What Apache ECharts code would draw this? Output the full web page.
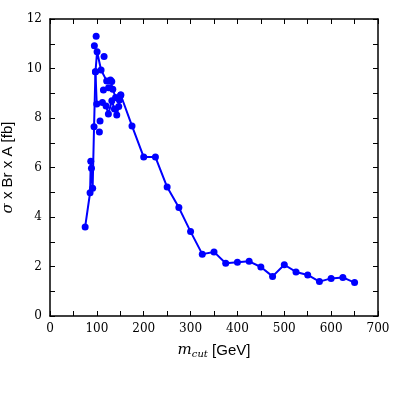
<!DOCTYPE html>
<html>
<head>
<meta charset="utf-8">
<script src="https://cdn.jsdelivr.net/npm/echarts@6/dist/echarts.min.js"></script>
<style>
  html, body { margin: 0; padding: 0; background: #fff; }
  #chart { width: 397px; height: 397px; }
</style>
</head>
<body>
<div id="chart"></div>
<script>
// main path (drawn in data order)
var mainX = [75, 85.5, 87, 88.5, 91, 94, 97, 100.5, 109, 121, 129, 134, 140, 151, 175, 200, 225, 250, 275, 300,
  325, 350, 375, 400, 425, 450, 475, 500, 525, 550, 575, 600, 625, 650];
var mainY = [3.6, 4.98, 6.25, 5.97, 5.16, 7.65, 9.87, 10.68, 9.94, 9.5, 9.54, 9.16, 8.83, 8.93, 7.68, 6.42, 6.42, 5.21, 4.38, 3.41,
  2.5, 2.59, 2.13, 2.17, 2.21, 1.98, 1.6, 2.07, 1.78, 1.66, 1.39, 1.52, 1.56, 1.35];
// second path through the lower part of the cluster
var clusterX = [97, 99.7, 111.8, 119.7, 124.6, 132, 137.5, 142.5, 146.7, 151];
var clusterY = [9.87, 8.57, 8.63, 8.48, 8.16, 8.7, 8.36, 8.12, 8.46, 8.93];
// single points, no line
var extraX = [94.7, 98.5, 105.4, 106.8, 115.4, 114, 125, 131.8, 148];
var extraY = [10.92, 11.3, 7.43, 7.88, 10.48, 9.13, 9.22, 9.47, 8.73];

function pairs(xs, ys) {
  var out = [];
  for (var i = 0; i < xs.length; i++) out.push([xs[i], ys[i]]);
  return out;
}

var chart = echarts.init(document.getElementById('chart'));
var tickFont = { fontFamily: 'DejaVu Serif', fontSize: 12, color: '#000' };
var frameLine = { show: true, onZero: false, lineStyle: { color: '#000', width: 1.5 } };
var tick = { show: true, inside: true, length: 5, lineStyle: { color: '#000', width: 1 } };
var minor = { show: true, splitNumber: 2, length: 5, lineStyle: { color: '#000', width: 1 } };

var option = {
  animation: false,
  backgroundColor: '#fff',
  grid: { left: 50, right: 19, top: 19, bottom: 81, containLabel: false, outerBoundsMode: 'none' },
  xAxis: [{
    type: 'value', min: 0, max: 700, interval: 100,
    axisLine: frameLine, axisTick: tick, minorTick: minor,
    splitLine: { show: false },
    axisLabel: Object.assign({ margin: 7 }, tickFont),
    name: '{m|m}{sub|cut} [GeV]',
    nameLocation: 'middle', nameGap: 26,
    nameTextStyle: {
      fontFamily: 'Liberation Sans', fontSize: 15, color: '#000',
      rich: {
        m: { fontFamily: 'DejaVu Serif', fontStyle: 'italic', fontSize: 15, color: '#000' },
        sub: { fontFamily: 'DejaVu Serif', fontStyle: 'italic', fontSize: 10, color: '#000', padding: [7, 0, 0, 0] }
      }
    }
  }, {
    type: 'value', min: 0, max: 700, interval: 100, position: 'top',
    axisLine: frameLine, axisTick: tick, minorTick: minor,
    splitLine: { show: false }, axisLabel: { show: false }
  }],
  yAxis: [{
    type: 'value', min: 0, max: 12, interval: 2,
    axisLine: frameLine, axisTick: tick, minorTick: minor,
    splitLine: { show: false },
    axisLabel: Object.assign({ margin: 8 }, tickFont),
    name: '{s|σ} x Br x A [fb]',
    nameLocation: 'middle', nameGap: 28,
    nameTextStyle: {
      fontFamily: 'Liberation Sans', fontSize: 15, color: '#000',
      rich: {
        s: { fontFamily: 'DejaVu Serif', fontStyle: 'italic', fontSize: 15, color: '#000' }
      }
    }
  }, {
    type: 'value', min: 0, max: 12, interval: 2, position: 'right',
    axisLine: frameLine, axisTick: tick, minorTick: minor,
    splitLine: { show: false }, axisLabel: { show: false }
  }],
  series: [{
    type: 'line', data: pairs(mainX, mainY),
    symbol: 'circle', symbolSize: 7,
    lineStyle: { color: '#0000ff', width: 2 },
    itemStyle: { color: '#0000ff' }
  }, {
    type: 'line', data: pairs(clusterX, clusterY),
    symbol: 'circle', symbolSize: 7,
    lineStyle: { color: '#0000ff', width: 2 },
    itemStyle: { color: '#0000ff' }
  }, {
    type: 'scatter', data: pairs(extraX, extraY),
    symbol: 'circle', symbolSize: 7,
    itemStyle: { color: '#0000ff', opacity: 1 }
  }]
};
chart.setOption(option);
</script>
</body>
</html>
